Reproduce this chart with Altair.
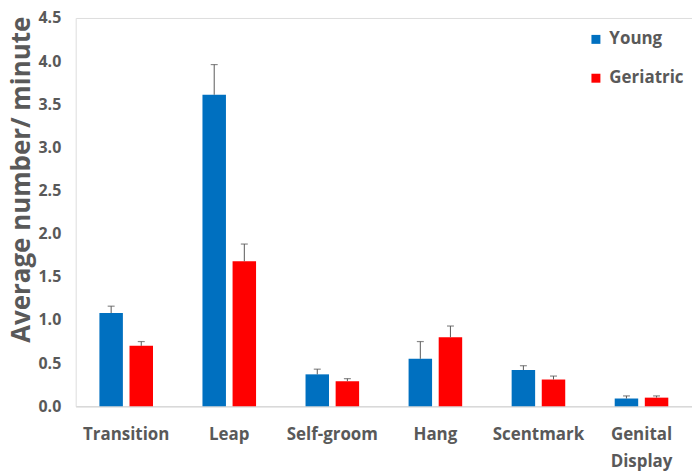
import altair as alt
import pandas as pd

categories = ["Transition", "Leap", "Self-groom", "Hang", "Scentmark", "Genital Display"]
groups = ["Young", "Geriatric"]
young = [1.08, 3.61, 0.37, 0.55, 0.42, 0.09]
young_err = [0.08, 0.35, 0.06, 0.20, 0.05, 0.03]
geri = [0.70, 1.68, 0.29, 0.80, 0.31, 0.10]
geri_err = [0.05, 0.20, 0.03, 0.13, 0.04, 0.02]

rows = []
for i, c in enumerate(categories):
    rows.append({"cat": c, "grp": "Young", "val": young[i], "hi": young[i] + young_err[i]})
    rows.append({"cat": c, "grp": "Geriatric", "val": geri[i], "hi": geri[i] + geri_err[i]})
df = pd.DataFrame(rows)

FONT = "Open Sans"
GREY = "#595959"

xscale = alt.Scale(paddingInner=0.48, paddingOuter=0.23)
x = alt.X("cat:N", sort=categories, scale=xscale, title=None,
          axis=alt.Axis(labelAngle=0, labelFont=FONT, labelFontSize=17, labelFontWeight="bold",
                        labelColor=GREY, ticks=False, domainColor="#d9d9d9", domainWidth=1.5,
                        labelPadding=20, labelLineHeight=27,
                        labelExpr="datum.value == 'Genital Display' ? ['Genital', 'Display'] : datum.value"))
xo = alt.XOffset("grp:N", sort=groups, scale=alt.Scale(paddingInner=0.22, paddingOuter=0))
y = alt.Y("val:Q", scale=alt.Scale(domain=[0, 4.5]), title="Average number/ minute",
          axis=alt.Axis(values=[0, 0.5, 1, 1.5, 2, 2.5, 3, 3.5, 4, 4.5], format=".1f",
                        grid=False, domain=False, ticks=False, labelFont=FONT, labelFontSize=16,
                        labelFontWeight="bold", labelColor=GREY, labelPadding=15,
                        titleFont=FONT, titleFontSize=26, titleFontWeight="bold",
                        titleColor=GREY, titleX=-54, titleY=162, titleAngle=270,
                        titleAlign="center", titleBaseline="middle"))

color = alt.Color("grp:N", sort=groups,
                  scale=alt.Scale(domain=groups, range=["#0070C0", "#FF0000"]),
                  legend=alt.Legend(title=None, orient="none", legendX=514, legendY=13,
                                    symbolType="square", symbolSize=81, symbolStrokeWidth=0,
                                    labelFont=FONT, labelFontSize=17, labelFontWeight="bold",
                                    labelColor=GREY, rowPadding=21, labelOffset=5))

base = alt.Chart(df)
bars = base.mark_bar().encode(x=x, xOffset=xo, y=y, color=color)
rules = base.mark_rule(color=GREY, strokeWidth=1).encode(
    x=alt.X("cat:N", sort=categories, scale=xscale), xOffset=xo,
    y=alt.Y("val:Q"), y2="hi:Q")
caps = base.mark_tick(color=GREY, size=7, thickness=1.2, orient="horizontal").encode(
    x=alt.X("cat:N", sort=categories, scale=xscale), xOffset=xo, y=alt.Y("hi:Q"))

chart = alt.layer(bars, rules, caps).properties(
    width=619, height=390,
    autosize=alt.AutoSizeParams(type="none"),
    padding={"left": 68, "top": 9, "right": 0, "bottom": 66}
).configure_view(stroke=None).configure(background="white")

chart.save("out.html", embed_options={"renderer": "svg", "actions": False})
